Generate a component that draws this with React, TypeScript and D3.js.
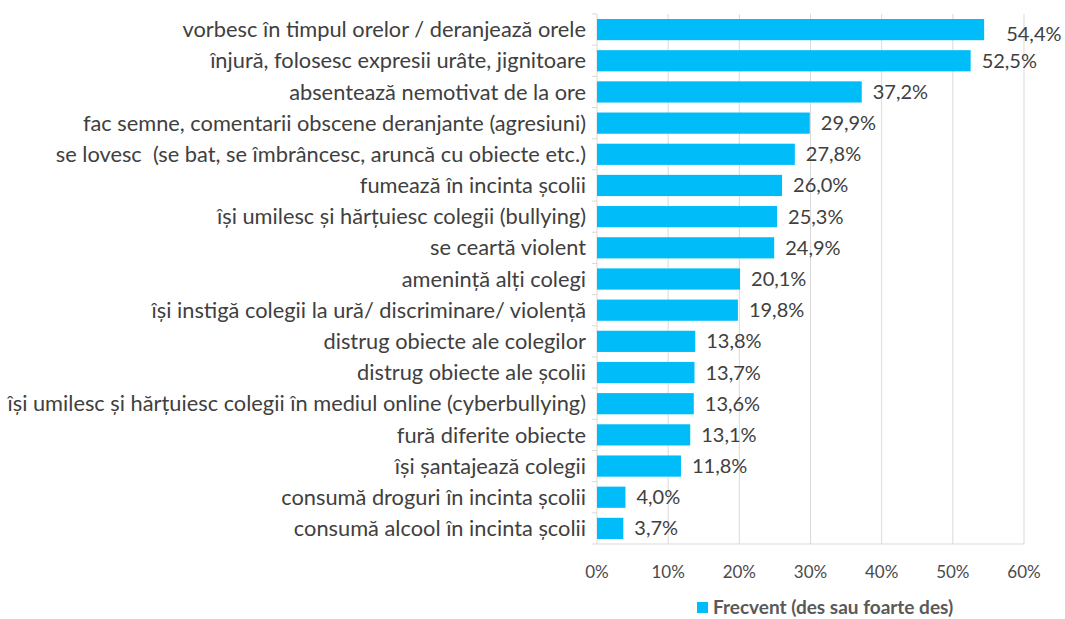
import React from "react";
import * as d3 from "d3";

const categories = [
  "vorbesc în timpul orelor / deranjează orele",
  "înjură, folosesc expresii urâte, jignitoare",
  "absentează nemotivat de la ore",
  "fac semne, comentarii obscene deranjante (agresiuni)",
  "se lovesc  (se bat, se îmbrâncesc, aruncă cu obiecte etc.)",
  "fumează în incinta școlii",
  "își umilesc și hărțuiesc colegii (bullying)",
  "se ceartă violent",
  "amenință alți colegi",
  "își instigă colegii la ură/ discriminare/ violență",
  "distrug obiecte ale colegilor",
  "distrug obiecte ale școlii",
  "își umilesc și hărțuiesc colegii în mediul online (cyberbullying)",
  "fură diferite obiecte",
  "își șantajează colegii",
  "consumă droguri în incinta școlii",
  "consumă alcool în incinta școlii",
];
const values = [54.4, 52.5, 37.2, 29.9, 27.8, 26.0, 25.3, 24.9, 20.1, 19.8, 13.8, 13.7, 13.6, 13.1, 11.8, 4.0, 3.7];
const xTicks = [0, 10, 20, 30, 40, 50, 60];
const seriesName = "Frecvent (des sau foarte des)";

const W = 1065;
const H = 619;
const left = 597;
const right = 1024;
const top = 14;
const bottom = 544;
const font = "Lato, 'Open Sans', sans-serif";
const barColor = "#00BDF9";

const App = () => {
  const x = d3.scaleLinear().domain([0, 60]).range([left, right]);
  const y = d3.scaleBand<string>().domain(categories).range([top, bottom]).paddingInner(0.32).paddingOuter(0.16);
  const band = (bottom - top) / categories.length;
  const fmt = (v: number) => v.toFixed(1).replace(".", ",") + "%";

  return (
    <svg width={W} height={H} style={{ position: "absolute", left: 0, top: 0, background: "#fff" }} fontFamily={font}>
      {xTicks.slice(1).map((t) => (
        <line key={t} x1={x(t)} x2={x(t)} y1={top} y2={bottom} stroke="#d9d9d9" strokeWidth={1} />
      ))}
      <line x1={left} x2={right} y1={bottom} y2={bottom} stroke="#d9d9d9" />
      <line x1={left} x2={left} y1={top} y2={bottom} stroke="#d9d9d9" />
      {d3.range(categories.length + 1).map((i) => (
        <line key={i} x1={left - 5} x2={left} y1={top + i * band} y2={top + i * band} stroke="#d9d9d9" />
      ))}
      {categories.map((c, i) => (
        <g key={c}>
          <rect x={x(0)} y={y(c)} width={x(values[i]) - x(0)} height={y.bandwidth()} fill={barColor} />
          <text
            x={left - 11}
            y={(y(c) as number) + y.bandwidth() / 2}
            dy="0.35em"
            textAnchor="end"
            fontSize={21.8}
            fill="#404040"
            style={{ whiteSpace: "pre" }}
          >
            {c}
          </text>
          <text x={x(values[i]) + (i === 0 ? 22 : 11)} y={(y(c) as number) + y.bandwidth() / 2 + (i === 0 ? 4 : 0)} dy="0.35em" fontSize={20} fill="#404040">
            {fmt(values[i])}
          </text>
        </g>
      ))}
      {xTicks.map((t) => (
        <text key={t} x={x(t)} y={578} textAnchor="middle" fontSize={17} fill="#4a4a4a">
          {t + "%"}
        </text>
      ))}
      <rect x={697} y={602} width={11} height={11} fill={barColor} />
      <text x={713} y={614} fontSize={19} fontWeight="bold" fill="#595959">
        {seriesName}
      </text>
    </svg>
  );
};

export default App;
